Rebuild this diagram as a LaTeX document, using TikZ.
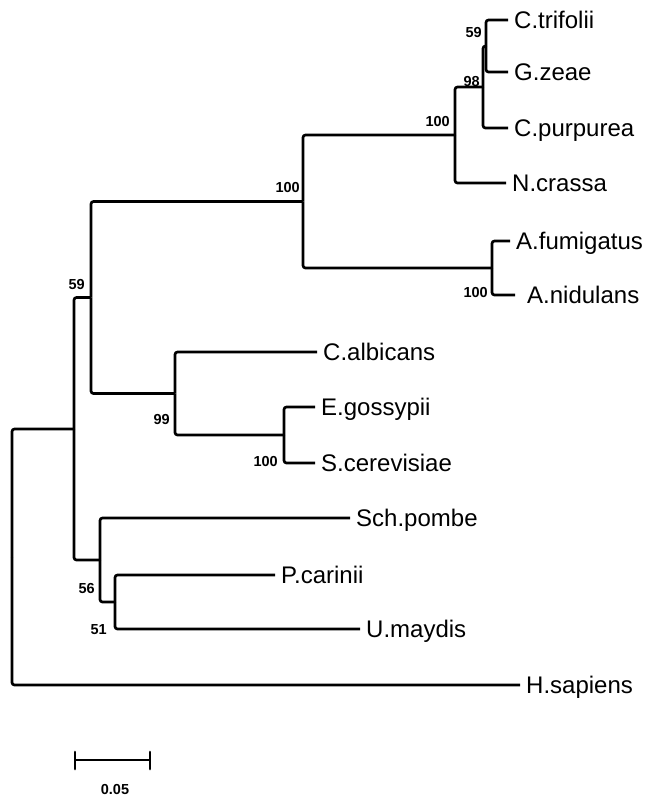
\documentclass[tikz,border=0pt]{standalone}
\usepackage{fontspec}
\setmainfont{Liberation Sans}
\tikzset{
  branch/.style={line width=2.7pt, rounded corners=2.5pt, line join=round},
  leaf/.style={anchor=west, inner xsep=6pt, inner ysep=0pt, text height=17.2pt,
    text depth=0pt, font=\fontsize{24}{26}\selectfont},
  boot/.style={inner sep=0pt, font=\fontsize{14.5}{16}\selectfont\bfseries},
}
\begin{document}
\begin{tikzpicture}[x=1pt, y=-1pt]
\useasboundingbox (0,0) rectangle (658,796);

% internal nodes of the tree
\coordinate (root) at (12,557);
\coordinate (nA) at (74,429);
\coordinate (nB) at (91,297.5);
\coordinate (nC) at (303,201.5);
\coordinate (nD) at (455,135);
\coordinate (nE) at (483,87);
\coordinate (nF) at (486,46);
\coordinate (nG) at (492,268);
\coordinate (nH) at (175,393.5);
\coordinate (nI) at (284,435);
\coordinate (nJ) at (100,560);
\coordinate (nK) at (115,602);

% taxa
\node[leaf] (ctri) at (508,20) {C.trifolii};
\node[leaf] (gzea) at (508,72) {G.zeae};
\node[leaf] (cpur) at (508,128) {C.purpurea};
\node[leaf] (ncra) at (506,183) {N.crassa};
\node[leaf] (afum) at (510,241) {A.fumigatus};
\node[leaf, inner xsep=12pt] (anid) at (515,295) {A.nidulans};
\node[leaf] (calb) at (317,352) {C.albicans};
\node[leaf] (egos) at (315,407) {E.gossypii};
\node[leaf] (scer) at (315,463) {S.cerevisiae};
\node[leaf] (spom) at (350,518) {Sch.pombe};
\node[leaf] (pcar) at (275,575) {P.carinii};
\node[leaf] (umay) at (360,629) {U.maydis};
\node[leaf] (hsap) at (520,685) {H.sapiens};

% branches
\draw[branch] (root) |- (nA);
\draw[branch] (root) |- (hsap.west);
\draw[branch] (nA) |- (nB);
\draw[branch] (nA) |- (nJ);
\draw[branch] (nB) |- (nC);
\draw[branch] (nB) |- (nH);
\draw[branch] (nC) |- (nD);
\draw[branch] (nC) |- (nG);
\draw[branch] (nD) |- (nE);
\draw[branch] (nD) |- (ncra.west);
\draw[branch] (nE) |- (nF);
\draw[branch] (nE) |- (cpur.west);
\draw[branch] (nF) |- (ctri.west);
\draw[branch] (nF) |- (gzea.west);
\draw[branch] (nG) |- (afum.west);
\draw[branch] (nG) |- (anid.west);
\draw[branch] (nH) |- (calb.west);
\draw[branch] (nH) |- (nI);
\draw[branch] (nI) |- (egos.west);
\draw[branch] (nI) |- (scer.west);
\draw[branch] (nJ) |- (spom.west);
\draw[branch] (nJ) |- (nK);
\draw[branch] (nK) |- (pcar.west);
\draw[branch] (nK) |- (umay.west);

% bootstrap values
\node[boot, anchor=east] (bF) at (482,33) {59};
\node[boot, anchor=east] (bE) at (480,82) {98};
\node[boot, anchor=east] (bD) at (450,122) {100};
\node[boot, anchor=east] (bC) at (300,188) {100};
\node[boot, anchor=east] (bG) at (488,293) {100};
\node[boot, anchor=east] (bB) at (85,285) {59};
\node[boot, anchor=east] (bH) at (170,420) {99};
\node[boot, anchor=east] (bI) at (278,462) {100};
\node[boot, anchor=east] (bJ) at (95,588) {56};
\node[boot, anchor=east] (bK) at (107,630) {51};

% scale bar
\coordinate (sL) at (75,760);
\coordinate (sR) at (150,760);
\draw[branch] (sL) -- (sR);
\draw[line width=2.7pt, line cap=round] ([yshift=8pt]sL) -- ([yshift=-9pt]sL);
\draw[line width=2.7pt, line cap=round] ([yshift=8pt]sR) -- ([yshift=-9pt]sR);
\node[boot] (sLabel) at (115,789) {0.05};
\end{tikzpicture}
\end{document}
